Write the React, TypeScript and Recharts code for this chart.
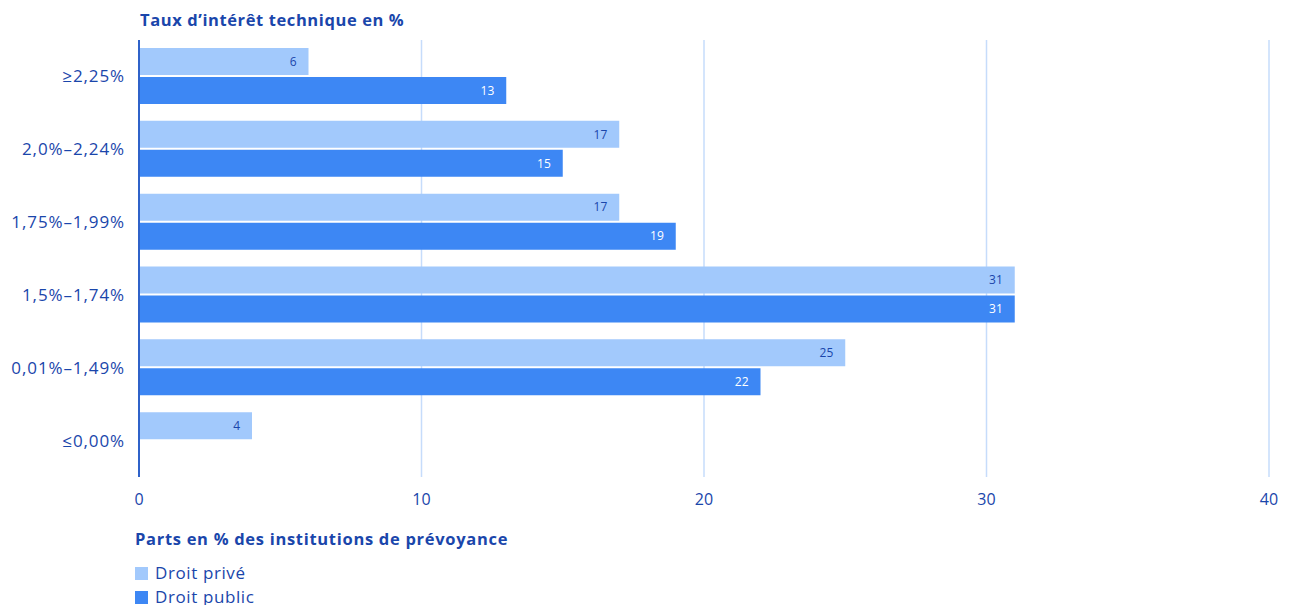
import { BarChart, Bar, XAxis, YAxis, CartesianGrid, LabelList } from 'recharts'

const categories = ['≥2,25%', '2,0%–2,24%', '1,75%–1,99%', '1,5%–1,74%', '0,01%–1,49%', '≤0,00%']
const droitPrive = [6, 17, 17, 31, 25, 4]
const droitPublic: (number | null)[] = [13, 15, 19, 31, 22, null]
const xTicks = [0, 10, 20, 30, 40]

const data = categories.map((name, i) => ({ name, prive: droitPrive[i], public: droitPublic[i] }))

const TEXT = '#1a46ab'
const LIGHT = '#a2c9fc'
const DARK = '#3d87f4'
const FONT = '"Open Sans", "Noto Sans", sans-serif'

export default function App() {
    return (
        <div style={{ position: 'absolute', left: 0, top: 0, width: 1296, height: 605, background: '#fff', fontFamily: FONT, color: TEXT }}>
            <div style={{ position: 'absolute', left: 140, top: 8, fontSize: 16.5, fontWeight: 700, letterSpacing: 0.6 }}>
                Taux d’intérêt technique en %
            </div>
            <BarChart
                width={1296}
                height={520}
                data={data}
                layout="vertical"
                margin={{ top: 40, right: 27, left: 0, bottom: 13 }}
                barGap={2}
                barSize={27}
            >
                <CartesianGrid horizontal={false} stroke="#c6dcfb" strokeWidth={1.5} />
                <XAxis
                    type="number"
                    domain={[0, 40]}
                    ticks={xTicks}
                    axisLine={false}
                    tickLine={false}
                    tickSize={0}
                    tickMargin={17}
                    height={30}
                    tick={{ fill: TEXT, fontSize: 16, fontFamily: FONT }}
                />
                <YAxis
                    type="category"
                    dataKey="name"
                    width={139}
                    tickLine={false}
                    tickSize={0}
                    tickMargin={14}
                    axisLine={{ stroke: '#2f62c9', strokeWidth: 2 }}
                    tick={{ fill: TEXT, fontSize: 17, fontFamily: FONT, letterSpacing: 0.9 }}
                />
                <Bar dataKey="prive" name="Droit privé" fill={LIGHT} isAnimationActive={false}>
                    <LabelList dataKey="prive" position="insideRight" offset={12} fill={TEXT} fontSize={12} fontFamily={FONT} />
                </Bar>
                <Bar dataKey="public" name="Droit public" fill={DARK} isAnimationActive={false}>
                    <LabelList
                        dataKey="public"
                        position="insideRight"
                        offset={12}
                        fill="#ffffff"
                        fontSize={12}
                        fontFamily={FONT}
                        formatter={(v: any) => (v == null ? '' : v)}
                    />
                </Bar>
            </BarChart>
            <div style={{ position: 'absolute', left: 135, top: 527, fontSize: 16.5, fontWeight: 700, letterSpacing: 0.7 }}>
                Parts en % des institutions de prévoyance
            </div>
            <div style={{ position: 'absolute', left: 135, top: 561, fontSize: 17, lineHeight: '24px', letterSpacing: 0.6 }}>
                <div style={{ display: 'flex', alignItems: 'center' }}>
                    <span style={{ width: 13, height: 13, background: LIGHT, marginRight: 7, display: 'inline-block' }} />
                    Droit privé
                </div>
                <div style={{ display: 'flex', alignItems: 'center' }}>
                    <span style={{ width: 13, height: 13, background: DARK, marginRight: 7, display: 'inline-block' }} />
                    Droit public
                </div>
            </div>
        </div>
    )
}
